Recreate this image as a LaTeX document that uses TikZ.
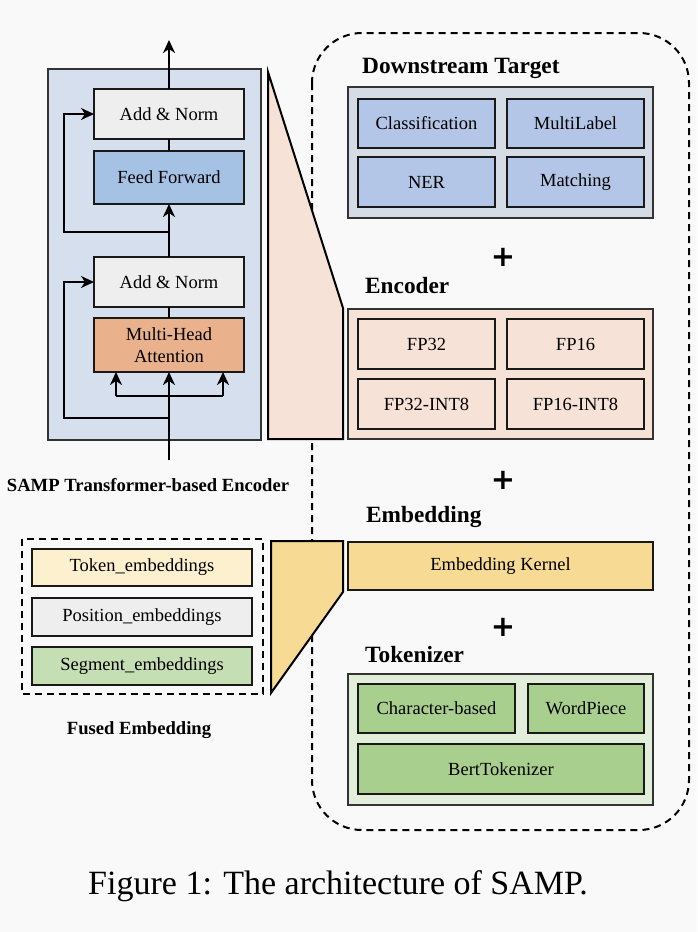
\documentclass[tikz,border=0pt]{standalone}
\usepackage{fontspec}
\setmainfont{Liberation Serif}
\newfontfamily\plusfont{DejaVu Sans}
\usetikzlibrary{arrows.meta}
\definecolor{bgc}{RGB}{249,249,249}
\definecolor{encbg}{RGB}{214,223,238}
\definecolor{addnorm}{RGB}{238,238,238}
\definecolor{fffill}{RGB}{165,194,228}
\definecolor{mhafill}{RGB}{233,178,140}
\definecolor{peach}{RGB}{246,226,214}
\definecolor{dsbg}{RGB}{214,220,229}
\definecolor{dsbox}{RGB}{180,198,231}
\definecolor{yel}{RGB}{247,219,148}
\definecolor{tokfill}{RGB}{253,240,206}
\definecolor{posfill}{RGB}{238,238,238}
\definecolor{segfill}{RGB}{198,222,180}
\definecolor{tokbg}{RGB}{226,238,218}
\definecolor{tokbox}{RGB}{169,207,142}
\tikzset{
  box/.style={draw=black!90, line width=2.8pt, inner sep=0pt, outer sep=0pt, font=\fontsize{18.5}{22}\selectfont, align=center},
  outerbox/.style={draw=black!80, line width=2.2pt},
  lbl/.style={font=\fontsize{23.3}{26}\selectfont\bfseries, anchor=west, inner sep=0pt},
  sublbl/.style={font=\fontsize{18.6}{20}\selectfont\bfseries, inner sep=0pt},
  plussign/.style={font=\plusfont\fontsize{29}{29}\selectfont\bfseries, inner sep=0pt},
  arr/.style={line width=2.4pt, -{Stealth[length=13pt,width=12pt,inset=4pt]}},
  ln/.style={line width=2.4pt},
  dsh/.style={line width=2pt, dash pattern=on 7pt off 5pt},
}
\begin{document}
\begin{tikzpicture}[x=1pt,y=-1pt]
\fill[bgc] (0,0) rectangle (697,932);
\useasboundingbox (0,0) rectangle (697,932);

% dashed rounded container
\draw[dsh, rounded corners=50pt] (312,33) rectangle (689,830);

% ---------- Transformer encoder ----------
\draw[outerbox, fill=encbg] (48,69) rectangle (261,440);
\node[box, fill=addnorm, minimum width=150, minimum height=50] (an1) at (169,114) {Add \& Norm};
\node[box, fill=fffill, minimum width=150, minimum height=53] (ff) at (169,177.5) {Feed Forward};
\node[box, fill=addnorm, minimum width=150, minimum height=50] (an2) at (169,282) {Add \& Norm};
\node[box, fill=mhafill, minimum width=150, minimum height=54, font=\fontsize{18.5}{22}\selectfont] (mha) at (169,345) {Multi-Head\\Attention};

\coordinate (top) at (169,40);
\coordinate (in) at (169,460);
\coordinate (r1) at (169,232);
\coordinate (r1l) at (64,232);
\coordinate (r2) at (169,418);
\coordinate (r2l) at (64,418);
\coordinate (bl) at (116,396);
\coordinate (br) at (223,396);

\draw[arr] (an1.north) -- (top);
\draw[ln] (ff.north) -- (an1.south);
\draw[arr] (an2.north) -- (ff.south);
\draw[ln] (mha.north) -- (an2.south);
\draw[arr] (in) -- (mha.south);
\draw[arr] (r1) -- (r1l) |- (an1.west);
\draw[arr] (r2) -- (r2l) |- (an2.west);
\draw[ln] (bl) -- (br);
\draw[arr] (bl) -- (bl |- mha.south);
\draw[arr] (br) -- (br |- mha.south);

\node[sublbl] (samp) at (148,485) {SAMP Transformer-based Encoder};

% zoom trapezoids
\draw[line width=2pt, fill=peach] (268,72) -- (343,308) -- (343,439) -- (268,439) -- cycle;
\draw[line width=2pt, fill=yel] (271,541) -- (343,541) -- (343,592) -- (271,693) -- cycle;

% ---------- Downstream Target ----------
\node[lbl] (dsl) at (362,68) {Downstream Target};
\draw[outerbox, fill=dsbg] (348,87) rectangle (653,218);
\node[box, fill=dsbox, minimum width=137, minimum height=49] (cls) at (426.5,123.5) {Classification};
\node[box, fill=dsbox, minimum width=137, minimum height=49] (ml) at (575.5,123.5) {MultiLabel};
\node[box, fill=dsbox, minimum width=137, minimum height=50] (ner) at (426.5,182) {NER};
\node[box, fill=dsbox, minimum width=137, minimum height=50] (mat) at (575.5,182) {Matching};

\node[plussign] (p1) at (503,257) {+};

% ---------- Encoder ----------
\node[lbl] (encl) at (365,286) {Encoder};
\draw[outerbox, fill=peach] (348,309) rectangle (653,439);
\node[box, fill=peach, minimum width=137, minimum height=50] (fp32) at (426.5,344) {FP32};
\node[box, fill=peach, minimum width=137, minimum height=50] (fp16) at (575.5,344) {FP16};
\node[box, fill=peach, minimum width=137, minimum height=50] (fp32i) at (426.5,404) {FP32-INT8};
\node[box, fill=peach, minimum width=137, minimum height=50] (fp16i) at (575.5,404) {FP16-INT8};

\node[plussign] (p2) at (503,480) {+};

% ---------- Embedding ----------
\node[lbl] (embl) at (366,517) {Embedding};
\node[box, line width=2.2pt, fill=yel, minimum width=305, minimum height=48] (ek) at (500.5,566) {Embedding Kernel};

\node[plussign] (p3) at (503,627) {+};

% ---------- Tokenizer ----------
\node[lbl] (tokl) at (365,655) {Tokenizer};
\draw[outerbox, fill=tokbg] (348,674) rectangle (653,805);
\node[box, fill=tokbox, minimum width=157, minimum height=49] (chr) at (436.5,708.5) {Character-based};
\node[box, fill=tokbox, minimum width=116, minimum height=49] (wp) at (586,708.5) {WordPiece};
\node[box, fill=tokbox, minimum width=286, minimum height=50] (bert) at (501,769) {BertTokenizer};

% ---------- Fused embedding ----------
\draw[dsh] (22,539) rectangle (263,694);
\node[box, fill=tokfill, minimum width=220, minimum height=37] (tok) at (142,567.5) {Token\_embeddings};
\node[box, fill=posfill, minimum width=220, minimum height=38] (pos) at (142,617) {Position\_embeddings};
\node[box, fill=segfill, minimum width=220, minimum height=38] (seg) at (142,666) {Segment\_embeddings};
\node[sublbl] (fused) at (139,730) {Fused Embedding};

% caption
\node[font=\fontsize{34}{36}\selectfont, inner sep=0pt] (cap) at (338,886) {Figure 1: The architecture of SAMP.};
\end{tikzpicture}
\end{document}
